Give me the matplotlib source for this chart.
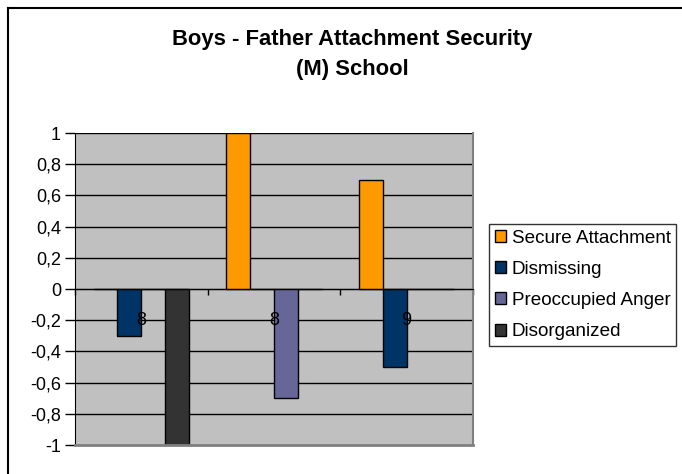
import matplotlib
matplotlib.use("Agg")
import matplotlib.pyplot as plt
import numpy as np
from matplotlib.lines import Line2D
from matplotlib.ticker import FuncFormatter

plt.rcParams['font.family'] = ['Liberation Sans', 'DejaVu Sans']

categories = ["8", "8", "9"]
series_names = ["Secure Attachment", "Dismissing", "Preoccupied Anger", "Disorganized"]
secure = [0, 1, 0.7]
dismissing = [-0.3, 0, -0.5]
preoccupied = [0, -0.7, 0]
disorganized = [-1, 0, 0]
colors = ["#FF9900", "#003366", "#666699", "#333333"]


def comma_fmt(v, pos):
    v = round(v, 1)
    if abs(v) < 1e-9:
        v = 0.0
    return ("%g" % v).replace(".", ",")


fig = plt.figure(figsize=(6.82, 4.74), dpi=100)
ax = fig.add_axes([75 / 682, 29 / 474, 398 / 682, 312 / 474])
ax.set_facecolor("#C0C0C0")

x = np.arange(len(categories))
width = 0.18
all_series = [secure, dismissing, preoccupied, disorganized]
handles = []
for i, (vals, name, col) in enumerate(zip(all_series, series_names, colors)):
    b = ax.bar(x + (i - 1.5) * width, vals, width, color=col, edgecolor="black",
               linewidth=1, label=name, zorder=3)
    handles.append(b)

ax.set_xlim(-0.5, 2.5)
ax.set_ylim(-1, 1)
yt = np.round(np.arange(-1, 1.01, 0.2), 1)
ax.set_yticks(yt)
ax.yaxis.set_major_formatter(FuncFormatter(comma_fmt))
ax.tick_params(axis="y", length=7, width=1, labelsize=13, pad=3, color="black")
for v in yt:
    if v > -1:
        ax.axhline(v, color="black", linewidth=1, zorder=1)

# x axis on the zero line with ticks between groups
ax.spines["bottom"].set_position(("data", 0))
ax.spines["bottom"].set_zorder(4)
ax.set_xticks([-0.5, 0.5, 1.5, 2.5])
ax.set_xticklabels([])
ax.tick_params(axis="x", length=4, width=1, direction="out")
ax.spines["top"].set_visible(False)
ax.spines["right"].set_color("#808080")
ax.spines["right"].set_linewidth(1.5)
ax.spines["left"].set_color("black")
ax.axhline(-1, color="#808080", linewidth=2, zorder=5, clip_on=False)

for xi, lab in zip(x, categories):
    ax.text(xi, -0.2, lab, ha="center", va="center", fontsize=13, zorder=6)

fig.text(352 / 682, 1 - 40 / 474, "Boys - Father Attachment Security",
         ha="center", va="center", fontsize=15.8, fontweight="bold")
fig.text(352 / 682, 1 - 70 / 474, "(M) School",
         ha="center", va="center", fontsize=15.8, fontweight="bold")

leg = fig.legend(handles=handles, loc="upper left",
                 bbox_to_anchor=(489 / 682, 1 - 224 / 474), fontsize=13.6,
                 frameon=True, fancybox=False, edgecolor="black",
                 handlelength=0.6, handleheight=0.6, handletextpad=0.3,
                 labelspacing=0.75, borderpad=0.3, borderaxespad=0)
leg.get_frame().set_linewidth(1)

# outer chart border
fig.add_artist(Line2D([8 / 682, 8 / 682], [0, 1 - 8 / 474], color="black", linewidth=1.5))
fig.add_artist(Line2D([8 / 682, 1], [1 - 8 / 474, 1 - 8 / 474], color="black", linewidth=1.5))

fig.savefig("out.png", dpi=100)
